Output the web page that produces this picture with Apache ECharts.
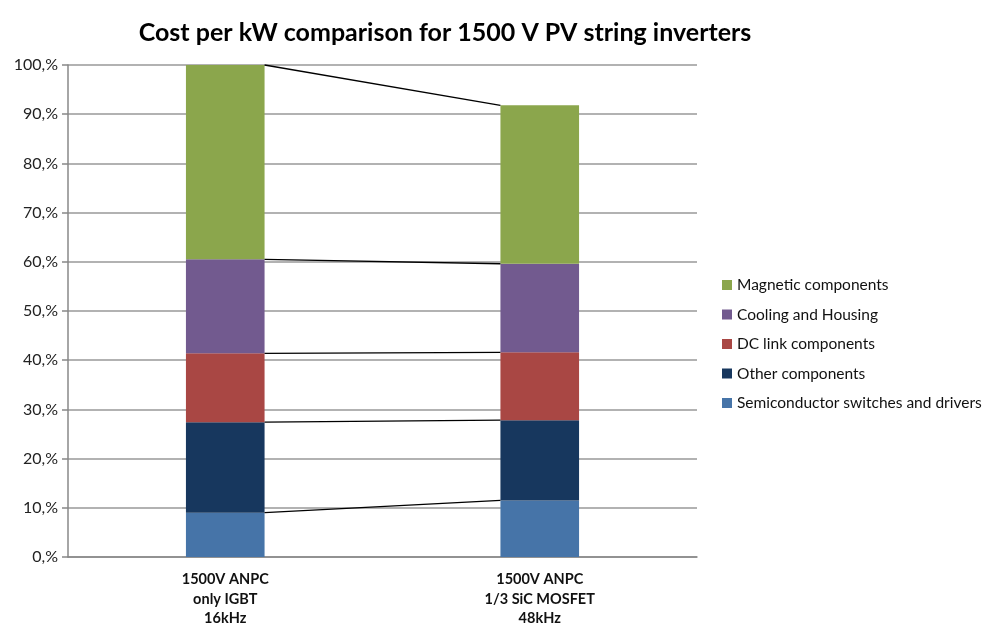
<!DOCTYPE html>
<html>
<head>
<meta charset="utf-8">
<script src="https://cdn.jsdelivr.net/npm/echarts@6/dist/echarts.min.js"></script>
<style>html,body{margin:0;padding:0;background:#fff}#c{width:999px;height:639px}</style>
</head>
<body>
<div id="c"></div>
<script>
const categories = ['1500V ANPC\nonly IGBT\n16kHz', '1500V ANPC\n1/3 SiC MOSFET\n48kHz'];
const semiconductor = [9.0, 11.5];
const other = [18.4, 16.3];
const dcLink = [14.0, 13.8];
const cooling = [19.1, 18.0];
const magnetic = [39.5, 32.2];
const yTicks = [0, 10, 20, 30, 40, 50, 60, 70, 80, 90, 100];

const seriesDefs = [
  {name: 'Semiconductor switches and drivers', data: semiconductor, color: '#4674A8'},
  {name: 'Other components', data: other, color: '#17375E'},
  {name: 'DC link components', data: dcLink, color: '#A94744'},
  {name: 'Cooling and Housing', data: cooling, color: '#725A8F'},
  {name: 'Magnetic components', data: magnetic, color: '#8BA64C'}
];

// cumulative tops for series lines
const cumA = [], cumB = [];
let a = 0, b = 0;
seriesDefs.forEach(s => { a += s.data[0]; b += s.data[1]; cumA.push(a); cumB.push(b); });
const linkData = cumA.map((v, i) => [v, cumB[i]]);

const FONT = 'Lato, "Open Sans", sans-serif';
const chart = echarts.init(document.getElementById('c'), null, {renderer: 'canvas'});

const barSeries = seriesDefs.map(s => ({
  name: s.name,
  type: 'bar',
  stack: 'total',
  barWidth: '25%',
  data: s.data,
  itemStyle: {color: s.color},
  z: 2
}));

chart.setOption({
  animation: false,
  title: {
    text: 'Cost per kW comparison for 1500 V PV string inverters',
    left: 440, top: 15, textAlign: 'center',
    textStyle: {fontFamily: FONT, fontWeight: 'bold', fontSize: 25, color: '#000'}
  },
  legend: {
    orient: 'vertical',
    left: 717, top: 272,
    itemWidth: 10, itemHeight: 10, itemGap: 13.5,
    icon: 'rect',
    data: seriesDefs.slice().reverse().map(s => s.name),
    textStyle: {fontFamily: FONT, fontSize: 15.5, color: '#111'}
  },
  grid: {left: 68, right: 302, top: 65, bottom: 82, containLabel: false},
  xAxis: {
    type: 'category',
    data: categories,
    axisLine: {show: true, lineStyle: {color: '#888', width: 1.5}},
    axisTick: {show: false},
    axisLabel: {fontFamily: FONT, fontWeight: 'bold', fontSize: 14.5, color: '#111', lineHeight: 19.5, margin: 13}
  },
  yAxis: {
    type: 'value',
    min: 0, max: 100, interval: 10,
    axisLine: {show: true, lineStyle: {color: '#888', width: 1.5}},
    axisTick: {show: true, length: 6, lineStyle: {color: '#888', width: 1.5}},
    splitLine: {lineStyle: {color: '#999', width: 1.5}},
    axisLabel: {
      fontFamily: FONT, fontSize: 16, color: '#222', margin: 10,
      formatter: v => (yTicks.indexOf(v) >= 0 ? v + ',%' : '')
    }
  },
  series: barSeries.concat([{
    type: 'custom',
    name: 'links',
    data: linkData,
    z: 3,
    silent: true,
    renderItem: function (params, api) {
      const p1 = api.coord([0, api.value(0)]);
      const p2 = api.coord([1, api.value(1)]);
      const half = api.size([1, 0])[0] * 0.125;
      return {
        type: 'line',
        shape: {x1: p1[0] + half, y1: p1[1], x2: p2[0] - half, y2: p2[1]},
        style: {stroke: '#000', lineWidth: 1.3}
      };
    },
    encode: {x: -1, y: [0, 1]}
  }])
});
</script>
</body>
</html>
